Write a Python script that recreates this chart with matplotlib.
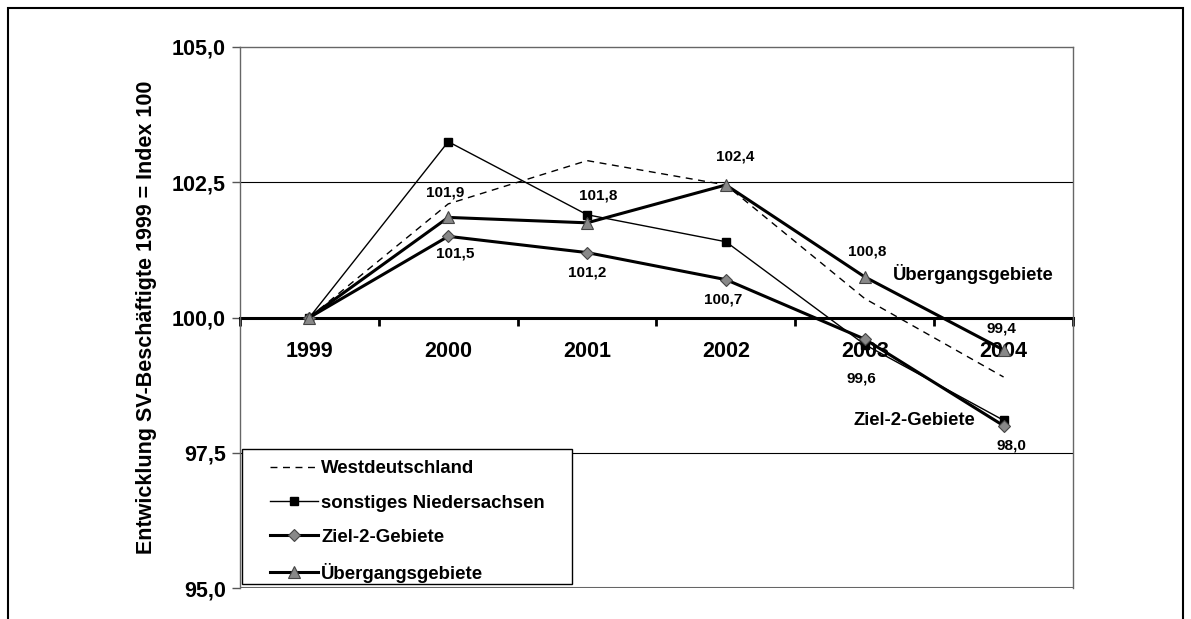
import matplotlib.pyplot as plt
from matplotlib.patches import Rectangle

plt.rcParams['font.family'] = ['Liberation Sans', 'DejaVu Sans']
plt.rcParams['font.weight'] = 'bold'

years = ['1999', '2000', '2001', '2002', '2003', '2004']
westdeutschland = [100.0, 102.1, 102.9, 102.45, 100.35, 98.9]
sonst_nds = [100.0, 103.25, 101.9, 101.4, 99.5, 98.1]
ziel2 = [100.0, 101.5, 101.2, 100.7, 99.6, 98.0]
uebergang = [100.0, 101.85, 101.75, 102.45, 100.75, 99.4]
ziel2_labels = ['101,5', '101,2', '100,7', '99,6', '98,0']
uebergang_labels = ['101,9', '101,8', '102,4', '100,8', '99,4']

fig = plt.figure(figsize=(11.91, 6.19), dpi=100)
ax = fig.add_axes([240 / 1191, 1 - 588 / 619, 833 / 1191, 541 / 619])
x = list(range(len(years)))

# plot lines
ax.plot(x, westdeutschland, color='black', lw=1, ls=(0, (5, 4)), label='Westdeutschland', zorder=3)
ax.plot(x, sonst_nds, color='black', lw=1, marker='s', ms=6, mfc='black', mec='black',
        label='sonstiges Niedersachsen', zorder=4)
ax.plot(x, ziel2, color='black', lw=2.2, marker='D', ms=6.5, mfc='#888888', mec='#444444', mew=0.8,
        label='Ziel-2-Gebiete', zorder=5)
ax.plot(x, uebergang, color='black', lw=2.2, marker='^', ms=9, mfc='#888888', mec='#444444', mew=0.8,
        label='Übergangsgebiete', zorder=6)

# data labels
z_off = [(7, -17), (0, -20), (-3, -20), (-3, -39), (8, -20)]
for i, (lab, off) in enumerate(zip(ziel2_labels, z_off)):
    ax.annotate(lab, (x[i + 1], ziel2[i + 1]), xytext=off, textcoords='offset pixels',
                ha='center', va='center', fontsize=11, fontweight='bold', zorder=7)
u_off = [(-3, 25), (11, 27), (9, 28), (2, 25), (-2, 21)]
for i, (lab, off) in enumerate(zip(uebergang_labels, u_off)):
    ax.annotate(lab, (x[i + 1], uebergang[i + 1]), xytext=off, textcoords='offset pixels',
                ha='center', va='center', fontsize=11, fontweight='bold', zorder=7)

ax.text(4.2, 100.8, 'Übergangsgebiete', fontsize=13.3, fontweight='bold', ha='left', va='center')
ax.text(3.92, 98.09, 'Ziel-2-Gebiete', fontsize=13.3, fontweight='bold', ha='left', va='center')

ax.set_xlim(-0.5, 5.5)
ax.set_ylim(95, 105)
ax.set_yticks([95, 97.5, 100, 102.5, 105])
ax.set_yticklabels(['95,0', '97,5', '100,0', '102,5', '105,0'], fontsize=15.5, fontweight='bold')
ax.tick_params(axis='y', length=6, width=1, color='#555555', pad=4)

ax.axhline(102.5, color='black', lw=0.8, zorder=1)
ax.axhline(97.5, color='black', lw=0.8, zorder=1)

ax.spines['bottom'].set_position(('data', 100))
ax.spines['bottom'].set_linewidth(2.2)
ax.spines['bottom'].set_zorder(2)
for s in ['left', 'right', 'top']:
    ax.spines[s].set_color('#666666')
    ax.spines[s].set_linewidth(1)
ax.axhline(95, color='#666666', lw=1.5, zorder=1)

ax.set_xticks(x)
ax.set_xticklabels(years, fontsize=15.5, fontweight='bold')
ax.set_xticks([i - 0.5 for i in range(7)], minor=True)
ax.tick_params(axis='x', which='major', length=0, pad=17)
ax.tick_params(axis='x', which='minor', length=6, width=2, direction='out')

ax.set_ylabel('Entwicklung SV-Beschäftigte 1999 = Index 100', fontsize=15.5, fontweight='bold')
ax.yaxis.set_label_coords(-0.1, 0.5)

# legend box drawn separately so the padding matches
ax.add_patch(Rectangle((-0.4856, 95.08), 2.374, 2.49, facecolor='white', edgecolor='black',
                       lw=1, zorder=7))
leg = ax.legend(loc='upper left', bbox_to_anchor=(0.036, 0.236), fontsize=13.4, frameon=False,
                handlelength=2.6, labelspacing=0.92, borderpad=0, handletextpad=0.15,
                borderaxespad=0)
for t in leg.get_texts():
    t.set_fontweight('bold')
leg.set_zorder(8)

fig.add_artist(Rectangle((8 / 1191, -0.05), 1175 / 1191, 1.05 - 8 / 619, transform=fig.transFigure,
                         fill=False, edgecolor='black', lw=1.5))

fig.savefig('out.png', dpi=100)
